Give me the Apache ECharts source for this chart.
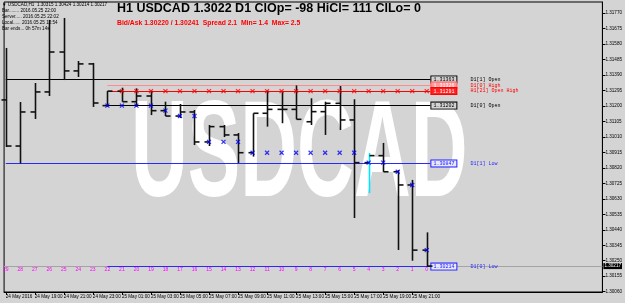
<!DOCTYPE html>
<html><head><meta charset="utf-8">
<script src="https://cdn.jsdelivr.net/npm/echarts@6/dist/echarts.min.js"></script>
<style>html,body{margin:0;padding:0;background:#d4d4d4}#c{width:625px;height:303px}</style>
</head><body><div id="c"></div>
<script>
// ---- data ----
const times = ['2016-05-24 17:00','2016-05-24 18:00','2016-05-24 19:00','2016-05-24 20:00','2016-05-24 21:00','2016-05-24 22:00','2016-05-24 23:00',
 '2016-05-25 00:00','2016-05-25 01:00','2016-05-25 02:00','2016-05-25 03:00','2016-05-25 04:00','2016-05-25 05:00','2016-05-25 06:00','2016-05-25 07:00',
 '2016-05-25 08:00','2016-05-25 09:00','2016-05-25 10:00','2016-05-25 11:00','2016-05-25 12:00','2016-05-25 13:00','2016-05-25 14:00','2016-05-25 15:00',
 '2016-05-25 16:00','2016-05-25 17:00','2016-05-25 18:00','2016-05-25 19:00','2016-05-25 20:00','2016-05-25 21:00','2016-05-25 22:00'];
const barNumbers = [29,28,27,26,25,24,23,22,21,20,19,18,17,16,15,14,13,12,11,10,9,8,7,6,5,4,3,2,1,0];
const openP  = [1.31237,1.30954,1.31163,1.31286,1.31531,1.31415,1.31458,1.31202,1.31291,1.31226,1.31261,1.31171,1.31138,1.31163,1.30979,1.31073,1.31022,1.30913,1.31155,1.31179,1.31179,1.31103,1.31165,1.31216,1.31114,1.30852,1.30895,1.30796,1.30715,1.30315];
const highP  = [1.31556,1.31224,1.31341,1.31728,1.31740,1.31476,1.31464,1.31291,1.31312,1.31308,1.31294,1.31226,1.31212,1.31175,1.31083,1.31083,1.31034,1.31155,1.31294,1.31287,1.31326,1.31247,1.31226,1.31322,1.31241,1.30911,1.30973,1.30807,1.30746,1.30424];
const lowP   = [1.30948,1.30847,1.31120,1.31261,1.31359,1.31378,1.31194,1.31195,1.31226,1.31195,1.31144,1.31138,1.31126,1.30960,1.30954,1.31009,1.30850,1.30889,1.31073,1.31094,1.31118,1.31083,1.31022,1.31052,1.30512,1.30666,1.30795,1.30316,1.30250,1.30214];
const closeP = [1.30954,1.31163,1.31286,1.31531,1.31415,1.31458,1.31218,1.31291,1.31226,1.31261,1.31171,1.31138,1.31163,1.30979,1.31073,1.31022,1.30913,1.31155,1.31179,1.31179,1.31118,1.31165,1.31216,1.31114,1.30852,1.30895,1.30796,1.30715,1.30315,1.30217];
const highlightBar = 4;           // bar number drawn in cyan
const dayStartIndex = 7;          // index of 2016-05-25 00:00 in times
const yTickValues = [1.30060,1.30155,1.30250,1.30345,1.30440,1.30535,1.30630,1.30725,1.30820,1.30915,1.31010,1.31105,1.31200,1.31295,1.31390,1.31485,1.31580,1.31675,1.31770];
const timeTickLabels = ['2016-05-24 17:00','2016-05-24 19:00','2016-05-24 21:00','2016-05-24 23:00','2016-05-25 01:00','2016-05-25 03:00','2016-05-25 05:00',
 '2016-05-25 07:00','2016-05-25 09:00','2016-05-25 11:00','2016-05-25 13:00','2016-05-25 15:00','2016-05-25 17:00','2016-05-25 19:00','2016-05-25 21:00'];
const levelNames  = ['D1[1] Open','D1[0] High','H1[21] Open High','D1[0] Open','D1[1] Low','H1[0] Open Low','D1[0] Low'];
const levelPrices = [1.31363,1.31326,1.31291,1.31202,1.30847,1.30315,1.30214];
const levelFrom   = ['2016-05-24 17:00','2016-05-25 00:00','2016-05-25 00:00','2016-05-25 00:00','2016-05-24 17:00','2016-05-25 22:00','2016-05-25 00:00'];
const currentPrice = 1.30217;
const titleText = 'H1 USDCAD 1.3022 D1 ClOp= -98 HiCl= 111 ClLo= 0';
const subText = 'Bid/Ask 1.30220 / 1.30241  Spread 2.1  Min= 1.4  Max= 2.5';
const infoLines = ['\u25BC USDCAD,H1  1.30315 1.30424 1.30214 1.30217','Bar........ 2016.05.25 22:00','Server..... 2016.05.25 22:02','Local...... 2016.05.25 12:54','Bar ends... 0h 57m 14s'];

// ---- helpers ----
const H = 3600000;
function ms(s){const [d,t]=s.split(' ');const [Y,M,D]=d.split('-').map(Number);const [h,m]=t.split(':').map(Number);return Date.UTC(Y,M-1,D,h,m);}
const tMs = times.map(ms);
const xMin = tMs[0] - 0.116*H, xMax = tMs[0] + 41.10*H;
const lineEnd = tMs[tMs.length-1] + 0.25*H;
const MON=['Jan','Feb','Mar','Apr','May','Jun','Jul','Aug','Sep','Oct','Nov','Dec'];
function fmtTime(v){const d=new Date(v);const hh=String(d.getUTCHours()).padStart(2,'0');
  if(v===tMs[0]) return d.getUTCDate()+' '+MON[d.getUTCMonth()]+' '+d.getUTCFullYear();
  return d.getUTCDate()+' '+MON[d.getUTCMonth()]+' '+hh+':00';}

const ohlc = tMs.map((t,i)=>[t,openP[i],highP[i],lowP[i],closeP[i],barNumbers[i]]);
const hiMarks=[],loMarks=[];let mx=-1,mn=9;
for(let i=dayStartIndex;i<tMs.length;i++){mx=Math.max(mx,openP[i]);mn=Math.min(mn,openP[i]);
  if(i>dayStartIndex) hiMarks.push([tMs[i],mx]); loMarks.push([tMs[i],mn]);}

const levelColors = ['#000','#ff8c8c','#ff0000','#000','#2828ff','#2828ff','#2828ff'];
const boxFill     = ['#d4d4d4','#ff9a9a','#ff2020','#d4d4d4','#e8e8ff','#e8e8ff','#e8e8ff'];
const boxText     = ['#000','#fff','#fff','#000','#2020ff','#2020ff','#2020ff'];
const boxBorder   = ['#000','#ff6060','#ff0000','#000','#2020ff','#2020ff','#2020ff'];
const levelLineShow=[1,1,1,1,1,0,1];
const markData = levelNames.map((n,i)=>{
  const st = levelLineShow[i] ? ms(levelFrom[i]) : lineEnd - 0.01*H;
  return [{coord:[st,levelPrices[i]], lineStyle:{color:levelColors[i],width:1,type:'solid',opacity: levelLineShow[i]?1:0},
    label:{show:true,position:'end',distance:1,formatter:'{b|'+levelPrices[i].toFixed(5)+'}{n|'+n+'}',
      rich:{b:{color:boxText[i],backgroundColor:boxFill[i],borderColor:boxBorder[i],borderWidth:1,padding:[1,2,0,2],fontSize:5,fontFamily:'Liberation Mono'},
            n:{color:levelColors[i]==='#ff8c8c'?'#ff0000':levelColors[i],fontSize:5,fontFamily:'Liberation Mono',padding:[0,0,0,14]}}}},
    {coord:[lineEnd,levelPrices[i]]}];
});

const chart = echarts.init(document.getElementById('c'),null,{renderer:'canvas'});
chart.setOption({
  backgroundColor:'#d4d4d4',
  animation:false,
  grid:{left:0,right:20,top:2,bottom:11,show:true,borderColor:'#000',borderWidth:1,backgroundColor:'transparent'},
  xAxis:[{type:'value',min:xMin,max:xMax,
     axisLine:{show:true,lineStyle:{color:'#000',width:1}},
     axisTick:{show:true,customValues:timeTickLabels.map(ms),length:3,lineStyle:{color:'#000'}},
     axisLabel:{customValues:timeTickLabels.map(ms),formatter:fmtTime,fontSize:4.6,color:'#000',align:'left',margin:2,fontFamily:'Liberation Sans',hideOverlap:false},
     splitLine:{show:false}},
    {type:'value',min:xMin,max:xMax,position:'bottom',offset:-27,
     axisLine:{show:false},axisTick:{show:false},splitLine:{show:false},
     axisLabel:{customValues:tMs,formatter:v=>{const k=tMs.indexOf(v);return k<0?'':String(barNumbers[k]);},fontSize:5,color:'#ff00ff',margin:2,fontFamily:'Liberation Sans',hideOverlap:false}}],
  yAxis:{type:'value',position:'right',min:1.30058,max:1.31838,
     axisLine:{show:true,lineStyle:{color:'#000'}},
     axisTick:{show:true,customValues:yTickValues,length:3,inside:false,lineStyle:{color:'#000'}},
     axisLabel:{customValues:yTickValues,formatter:v=>v.toFixed(5),fontSize:4.6,color:'#000',margin:3,fontFamily:'Liberation Sans'},
     splitLine:{show:false}},
  graphic:[
    {type:'text',left:131,top:89,z:0,scaleX:0.57,style:{text:'USDCAD',fill:'#ffffff',font:'bold 138px "Liberation Sans"'}},
    {type:'text',left:117,top:2,z:10,style:{text:titleText,fill:'#000',font:'bold 12.5px "Liberation Sans"'}},
    {type:'text',left:117,top:20,z:10,style:{text:subText,fill:'#ff0000',font:'bold 6.8px "Liberation Sans"'}},
    {type:'text',left:2,top:2,z:10,style:{text:infoLines.join('\n'),fill:'#000',font:'4.6px "Liberation Sans"',lineHeight:6}}
  ],
  series:[
    {type:'line',data:[],z:3,silent:true,
     markLine:{symbol:'none',silent:true,animation:false,data:[
       [{coord:[xMin,currentPrice],lineStyle:{color:'#a4a4a4',width:1,type:'solid'},
         label:{show:true,position:'end',distance:1,formatter:currentPrice.toFixed(5),color:'#fff',backgroundColor:'#000',fontSize:4.6,padding:[1,1,0,1],fontFamily:'Liberation Sans'}},
        {coord:[xMax,currentPrice]}]]}},
    {type:'line',data:[],z:4,silent:true,markLine:{symbol:'none',silent:true,animation:false,data:markData}},
    {type:'custom',z:6,data:ohlc,encode:{x:0,y:[1,2,3,4]},
     renderItem:(params,api)=>{
       const t=api.value(0);const o=api.coord([t,api.value(1)]),h=api.coord([t,api.value(2)]),l=api.coord([t,api.value(3)]),c=api.coord([t,api.value(4)]);
       const col = api.value(5)===highlightBar ? '#00e5ff':'#111';
       const x=Math.round(o[0])+0.5;
       return {type:'group',children:[
         {type:'line',shape:{x1:x,y1:h[1],x2:x,y2:l[1]},style:{stroke:col,lineWidth:1.6}},
         {type:'line',shape:{x1:x-5,y1:o[1],x2:x,y2:o[1]},style:{stroke:'#111',lineWidth:1.6}},
         {type:'line',shape:{x1:x,y1:c[1],x2:x+5,y2:c[1]},style:{stroke:'#111',lineWidth:1.6}}]};
     }},
    {type:'scatter',z:7,data:hiMarks,symbol:'path://M0,0L10,10M10,0L0,10',symbolSize:4,itemStyle:{color:'none',borderColor:'#ff0000',borderWidth:1.2}},
    {type:'scatter',z:8,data:loMarks,symbol:'path://M0,0L10,10M10,0L0,10',symbolSize:4,itemStyle:{color:'none',borderColor:'#0000ff',borderWidth:1.2}}
  ]
});
</script></body></html>
